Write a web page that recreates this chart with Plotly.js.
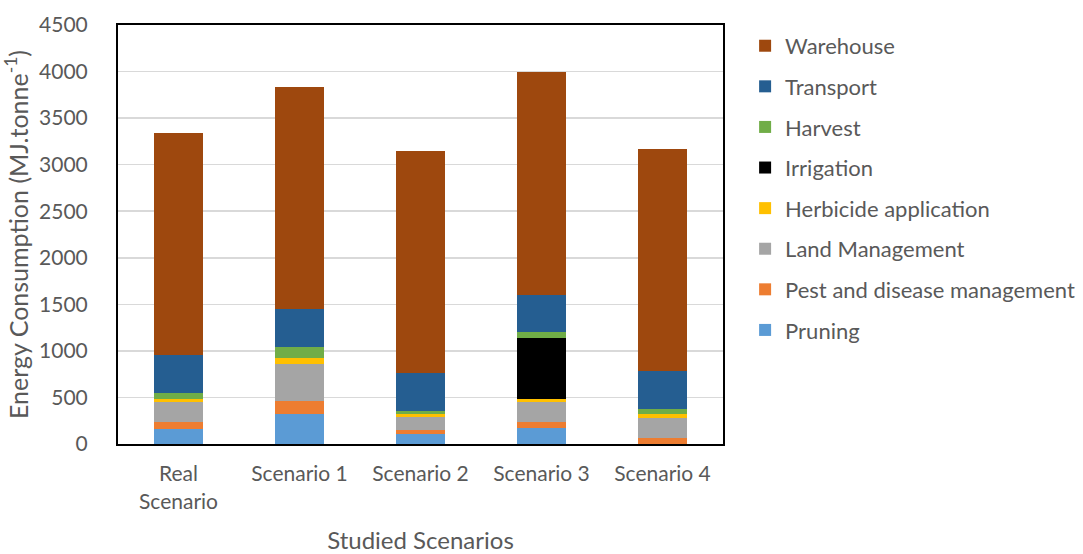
<!DOCTYPE html>
<html>
<head>
<meta charset="utf-8">
<script src="https://cdn.plot.ly/plotly-3.0.1.min.js"></script>
<style>html,body{margin:0;padding:0;background:#fff;}#chart{width:1083px;height:554px;}</style>
</head>
<body>
<div id="chart"></div>
<script>
const categories = ["Real<br>Scenario", "Scenario 1", "Scenario 2", "Scenario 3", "Scenario 4"];
const pruning   = [165, 322, 107, 168, 0];
const pest      = [75, 139, 48, 72, 68];
const landMgmt  = [207, 401, 135, 214, 211];
const herbicide = [40, 64, 29, 29, 40];
const irrigation= [0, 0, 0, 654, 0];
const harvest   = [60, 112, 35, 61, 54];
const transport = [408, 407, 412, 404, 415];
const warehouse = [2390, 2385, 2384, 2393, 2382];

const seriesNames = ["Pruning", "Pest and disease management", "Land Management", "Herbicide application", "Irrigation", "Harvest", "Transport", "Warehouse"];
const seriesValues = [pruning, pest, landMgmt, herbicide, irrigation, harvest, transport, warehouse];
const seriesColors = ["#5B9BD5", "#ED7D31", "#A5A5A5", "#FFC000", "#000000", "#70AD47", "#255E91", "#9E480E"];

const traces = seriesNames.map((n, i) => ({
  type: "bar",
  name: n,
  x: categories,
  y: seriesValues[i],
  legendgroup: "g" + i,
  legendrank: 1000 - i,
  marker: {color: seriesColors[i], line: {width: 0}},
  hoverinfo: "name+y"
}));

const font = {family: "Lato, 'Open Sans', sans-serif", color: "#595959"};

const layout = {
  width: 1083, height: 554,
  margin: {l: 118, r: 360, t: 25, b: 110},
  barmode: "stack",
  bargap: 0.6,
  paper_bgcolor: "#fff",
  plot_bgcolor: "#fff",
  font: Object.assign({size: 21}, font),
  xaxis: {
    type: "category",
    showline: true, mirror: true, linecolor: "#000", linewidth: 2,
    ticks: "", tickfont: Object.assign({size: 21}, font),
    ticklabelstandoff: 10,
    title: {text: "Studied Scenarios", font: Object.assign({size: 24}, font), standoff: 21}
  },
  yaxis: {
    range: [0, 4500], dtick: 500,
    showline: true, mirror: true, linecolor: "#000", linewidth: 2,
    showgrid: true, gridcolor: "#d9d9d9", gridwidth: 1.5,
    zeroline: false,
    ticks: "", tickfont: Object.assign({size: 21}, font),
    ticklabelstandoff: 24,
    title: {text: "Energy Consumption (MJ.tonne<sup>-1</sup>)", font: Object.assign({size: 25}, font), standoff: 10}
  },
  legend: {
    xref: "container", yref: "container",
    x: 0.688, y: 0.955, xanchor: "left", yanchor: "top",
    traceorder: "grouped",
    tracegroupgap: 9,
    maxheight: 540,
    font: Object.assign({size: 22}, font),
    bgcolor: "rgba(0,0,0,0)"
  },
  showlegend: true
};

Plotly.newPlot("chart", traces, layout, {displayModeBar: false, staticPlot: true});
</script>
</body>
</html>
